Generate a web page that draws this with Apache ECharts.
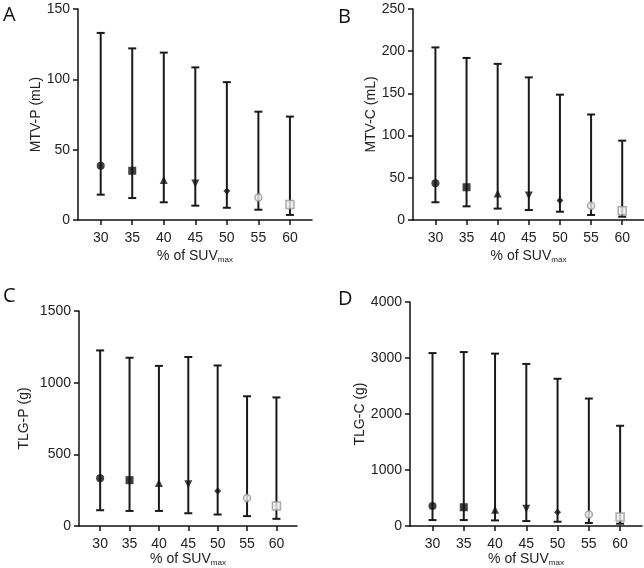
<!DOCTYPE html>
<html><head><meta charset="utf-8">
<script src="https://cdn.jsdelivr.net/npm/echarts@6/dist/echarts.min.js"></script>
<style>html,body{margin:0;padding:0;background:#fff}#c{width:644px;height:568px}</style>
</head><body><div id="c"></div>
<script>
const categories = [30, 35, 40, 45, 50, 55, 60];
// Panel A: MTV-P (mL)
const aMean = [38.5, 35, 28.5, 26, 20.7, 16, 11];
const aLow  = [18, 15.6, 12.6, 10.2, 8.7, 7.3, 3.6];
const aHigh = [133, 122, 119, 108.5, 98, 77, 73.5];
// Panel B: MTV-C (mL)
const bMean = [43.5, 38.8, 31.5, 29, 23, 17, 11];
const bLow  = [21, 16.2, 13.5, 11.8, 9.8, 5.9, 3.9];
const bHigh = [204.5, 192, 185, 169, 148.5, 125, 94];
// Panel C: TLG-P (g)
const cMean = [334, 320, 300, 291, 245, 195, 140];
const cLow  = [110, 105, 105, 89, 80, 69, 50];
const cHigh = [1225, 1174, 1117, 1179, 1120, 905, 897];
// Panel D: TLG-C (g)
const dMean = [358, 335, 290, 306, 247, 206, 159];
const dLow  = [106, 106, 100, 88, 76, 53, 41];
const dHigh = [3088, 3106, 3078, 2894, 2629, 2276, 1790];

const yNames = ['MTV-P (mL)', 'MTV-C (mL)', 'TLG-P (g)', 'TLG-C (g)'];
const yMax = [150, 250, 1500, 4000];
const yInt = [50, 50, 500, 1000];
const letters = ['A', 'B', 'C', 'D'];

const panels = [
  {mean: aMean, low: aLow, high: aHigh},
  {mean: bMean, low: bLow, high: bHigh},
  {mean: cMean, low: cLow, high: cHigh},
  {mean: dMean, low: dLow, high: dHigh}
];

const grids = [
  {left: 78, top: 9, width: 234, height: 211},
  {left: 413, top: 9, width: 231, height: 211},
  {left: 79, top: 311, width: 218, height: 218},
  {left: 410, top: 302, width: 232, height: 227}
];
const yNameGap = [31, 31, 48, 39];
const xNameGap = [29, 29, 26, 26];

const markerStyles = [
  {symbol: 'circle', symbolSize: 8, itemStyle: {color: '#111'}},
  {symbol: 'rect', symbolSize: 8, itemStyle: {color: '#111'}},
  {symbol: 'triangle', symbolSize: 8, itemStyle: {color: '#111'}},
  {symbol: 'triangle', symbolSize: 8, symbolRotate: 180, itemStyle: {color: '#111'}},
  {symbol: 'diamond', symbolSize: 7, itemStyle: {color: '#111'}},
  {symbol: 'circle', symbolSize: 7, itemStyle: {color: '#eee', borderColor: '#999', borderWidth: 1.5}},
  {symbol: 'rect', symbolSize: 8, itemStyle: {color: '#eee', borderColor: '#999', borderWidth: 1.5}}
];

const font = 'Liberation Sans, Arial, sans-serif';
const option = {
  animation: false,
  backgroundColor: '#fff',
  grid: grids.map(g => Object.assign({containLabel: false}, g)),
  xAxis: grids.map((g, i) => ({
    type: 'value', gridIndex: i, min: 26.4, max: 63.5,
    name: '{a|% of SUV}{s|max}', nameLocation: 'middle', nameGap: xNameGap[i],
    nameTextStyle: {rich: {
      a: {fontSize: 14, fontFamily: font, color: '#222'},
      s: {fontSize: 8, fontFamily: font, color: '#222', padding: [7, 0, 0, 0]}
    }},
    splitLine: {show: false},
    axisLine: {show: true, onZero: false, lineStyle: {color: '#111', width: 1.5}},
    axisTick: {show: true, length: 5, customValues: categories, lineStyle: {color: '#111', width: 1.5}},
    axisLabel: {customValues: categories, fontSize: 14, fontFamily: font, color: '#222', margin: 11}
  })),
  yAxis: grids.map((g, i) => ({
    type: 'value', gridIndex: i, min: 0, max: yMax[i], interval: yInt[i],
    name: yNames[i], nameLocation: 'middle', nameRotate: 90, nameGap: yNameGap[i],
    nameTextStyle: {fontSize: 14, fontFamily: font, color: '#222'},
    splitLine: {show: false},
    axisLine: {show: true, lineStyle: {color: '#111', width: 1.5}},
    axisTick: {show: true, length: 5, lineStyle: {color: '#111', width: 1.5}},
    axisLabel: {fontSize: 14, fontFamily: font, color: '#222', margin: 8, formatter: v => String(v)}
  })),
  series: [],
  graphic: letters.map((l, i) => ({
    type: 'text',
    left: [3, 338, 3, 338][i],
    top: [5, 7, 286, 289][i],
    style: {text: l, fontSize: 20, fontFamily: 'Open Sans, sans-serif', fill: '#111'}
  }))
};

panels.forEach((p, i) => {
  option.series.push({
    type: 'custom', xAxisIndex: i, yAxisIndex: i,
    data: categories.map((c, k) => [c, p.low[k], p.high[k]]),
    renderItem: function (params, api) {
      const x = api.value(0);
      const lo = api.coord([x, api.value(1)]);
      const hi = api.coord([x, api.value(2)]);
      const hw = 4;
      const st = {stroke: '#1a1a1a', lineWidth: 2};
      return {type: 'group', children: [
        {type: 'line', shape: {x1: lo[0], y1: lo[1], x2: hi[0], y2: hi[1]}, style: st},
        {type: 'line', shape: {x1: lo[0] - hw, y1: lo[1], x2: lo[0] + hw, y2: lo[1]}, style: st},
        {type: 'line', shape: {x1: hi[0] - hw, y1: hi[1], x2: hi[0] + hw, y2: hi[1]}, style: st}
      ]};
    },
    z: 2
  });
  option.series.push({
    type: 'scatter', xAxisIndex: i, yAxisIndex: i, z: 3,
    data: categories.map((c, k) => Object.assign({value: [c, p.mean[k]]}, markerStyles[k]))
  });
});

const chart = echarts.init(document.getElementById('c'), null, {renderer: 'canvas'});
chart.setOption(option);
</script>
</body></html>
